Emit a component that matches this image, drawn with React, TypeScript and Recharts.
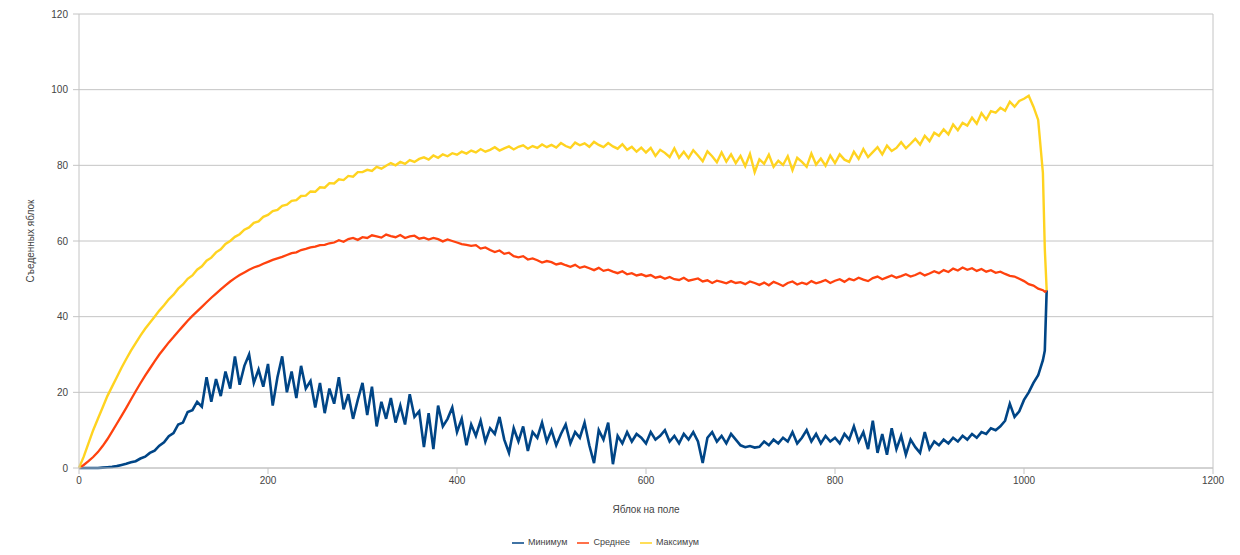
import {
  LineChart,
  Line,
  XAxis,
  YAxis,
  CartesianGrid,
  Legend,
  ReferenceLine
} from 'recharts'

// apples left on the field (x), sampled every 5 plus the last steps
const applesOnField = [
  0, 5, 10, 15, 20, 25, 30, 35, 40, 45, 50, 55, 60, 65, 70, 75, 80, 85, 90, 95,
  100, 105, 110, 115, 120, 125, 130, 135, 140, 145, 150, 155, 160, 165, 170, 175, 180, 185, 190, 195,
  200, 205, 210, 215, 220, 225, 230, 235, 240, 245, 250, 255, 260, 265, 270, 275, 280, 285, 290, 295,
  300, 305, 310, 315, 320, 325, 330, 335, 340, 345, 350, 355, 360, 365, 370, 375, 380, 385, 390, 395,
  400, 405, 410, 415, 420, 425, 430, 435, 440, 445, 450, 455, 460, 465, 470, 475, 480, 485, 490, 495,
  500, 505, 510, 515, 520, 525, 530, 535, 540, 545, 550, 555, 560, 565, 570, 575, 580, 585, 590, 595,
  600, 605, 610, 615, 620, 625, 630, 635, 640, 645, 650, 655, 660, 665, 670, 675, 680, 685, 690, 695,
  700, 705, 710, 715, 720, 725, 730, 735, 740, 745, 750, 755, 760, 765, 770, 775, 780, 785, 790, 795,
  800, 805, 810, 815, 820, 825, 830, 835, 840, 845, 850, 855, 860, 865, 870, 875, 880, 885, 890, 895,
  900, 905, 910, 915, 920, 925, 930, 935, 940, 945, 950, 955, 960, 965, 970, 975, 980, 985, 990, 995,
  1000, 1005, 1010, 1015, 1020, 1022, 1024
]

const minimum = [
  0, 0, 0, 0, 0, 0.1, 0.2, 0.3, 0.5, 0.8, 1.1, 1.5, 1.8, 2.5, 3.0, 4.0, 4.6, 5.9, 6.8, 8.4,
  9.2, 11.5, 12.0, 14.8, 15.3, 17.5, 16.2, 24.0, 17.5, 23.5, 19.0, 25.5, 21.0, 29.5, 22.0, 27.0, 30.0, 22.5, 26.0, 21.5,
  27.5, 16.5, 24.0, 29.5, 20.0, 25.5, 18.5, 27.0, 21.0, 23.0, 16.0, 22.5, 14.5, 21.0, 17.0, 24.0, 15.5, 19.5, 13.0, 18.0,
  22.5, 14.0, 21.5, 11.0, 17.5, 13.0, 18.5, 12.0, 16.5, 11.5, 19.5, 13.5, 15.0, 5.5, 14.5, 5.0, 16.5, 11.0, 13.0, 16.0,
  9.5, 13.0, 6.0, 11.5, 8.5, 12.5, 7.0, 10.5, 9.0, 13.5, 7.5, 4.0, 10.5, 7.0, 11.0, 4.5, 9.5, 8.0, 12.0, 7.0,
  10.0, 6.0, 9.0, 11.5, 6.5, 9.5, 8.0, 12.0, 6.0, 1.3, 10.0, 7.5, 12.0, 1.0, 8.5, 6.5, 9.5, 7.0, 9.0, 8.0,
  6.5, 9.5, 7.5, 8.5, 10.0, 7.0, 8.5, 6.5, 9.0, 7.5, 9.5, 7.0, 1.3, 8.0, 9.5, 7.0, 8.5, 6.5, 9.0, 7.5,
  6.0, 5.5, 5.8, 5.4, 5.6, 7.0, 6.0, 7.5, 6.5, 8.0, 7.0, 9.5, 6.5, 8.0, 10.0, 7.0, 9.0, 6.5, 8.5, 7.0,
  8.0, 6.5, 9.0, 7.5, 11.0, 7.0, 9.5, 5.0, 12.5, 4.0, 9.0, 3.5, 10.5, 5.0, 8.5, 3.5, 7.5, 5.5, 4.0, 9.5,
  5.0, 7.0, 6.0, 7.5, 6.5, 8.0, 7.0, 8.5, 7.5, 9.0, 8.0, 9.5, 9.0, 10.5, 10.0, 11.0, 12.5, 17.0, 13.5, 15.0,
  18.0, 20.0, 22.5, 24.5, 28.5, 31.0, 47.0
]

const average = [
  0, 0.8, 1.8, 2.9, 4.2, 5.8, 7.6, 9.6, 11.7, 13.8, 15.9, 18.1, 20.3, 22.4, 24.4, 26.3, 28.2, 30.0, 31.6, 33.2,
  34.6, 36.1, 37.5, 38.9, 40.2, 41.4, 42.6, 43.8, 45.0, 46.1, 47.2, 48.3, 49.3, 50.2, 51.0, 51.7, 52.4, 53.0, 53.4, 54.0,
  54.5, 55.0, 55.4, 55.8, 56.3, 56.8, 57.0, 57.6, 57.9, 58.3, 58.5, 58.9, 59.0, 59.4, 59.6, 60.2, 59.8, 60.5, 60.8, 60.3,
  61.0, 60.8, 61.5, 61.2, 60.9, 61.7, 61.3, 61.0, 61.6, 60.8, 61.2, 61.4, 60.6, 60.9, 60.4, 60.8, 60.5, 59.9, 60.4, 60.0,
  59.6, 59.2, 59.0, 58.7, 58.9, 58.0, 58.3, 57.6, 57.1, 57.5, 56.6, 56.9, 56.0, 55.7, 56.0, 55.1, 55.4, 54.9, 54.3, 54.7,
  54.4, 53.8, 54.1, 53.6, 53.2, 53.7, 52.9, 53.3, 52.8, 52.3, 52.9, 52.1, 52.4, 51.9, 51.5, 52.0, 51.2, 51.5, 50.9, 51.2,
  50.7, 51.0, 50.3, 50.6, 50.0, 50.5, 49.9, 49.7, 50.3, 49.5, 49.8, 50.1, 49.3, 49.6, 48.9, 49.5, 49.2, 48.8, 49.4, 48.9,
  49.1, 48.6, 49.3, 48.9, 48.4, 49.0, 48.3, 49.2, 48.7, 48.1, 48.9, 49.3, 48.5, 49.0, 48.6, 49.4, 48.8, 49.2, 49.7, 48.9,
  49.5, 49.9, 49.2, 50.0, 49.6, 50.3, 49.8, 49.4, 50.2, 50.6, 49.9, 50.4, 50.9, 50.3, 50.7, 51.2, 50.6, 51.0, 51.6, 50.9,
  51.4, 52.0, 51.5, 52.3, 51.8, 52.7, 52.2, 53.0, 52.4, 52.8, 52.1, 52.6, 51.9, 52.3, 51.6, 51.9, 51.3, 50.8, 50.6, 50.0,
  49.4, 48.6, 48.2, 47.4, 47.0, 46.6, 46.8
]

const maximum = [
  0, 3.0, 6.5, 10.0, 13.0, 16.0, 19.0, 21.5, 24.0, 26.5, 28.8, 31.0, 33.0, 35.0, 36.8, 38.4, 40.0, 41.6, 43.0, 44.6,
  45.8, 47.4, 48.5, 50.0, 50.9, 52.4, 53.3, 54.8, 55.6, 57.0, 57.8, 59.2, 60.0, 61.1, 61.8, 63.0, 63.6, 64.8, 65.2, 66.4,
  66.9, 67.9, 68.2, 69.3, 69.6, 70.6, 70.8, 71.9, 72.0, 73.1, 73.0, 74.2, 74.1, 75.3, 75.2, 76.3, 76.1, 77.2, 77.0, 78.2,
  78.2, 78.8, 78.5, 79.6, 79.1, 79.9, 80.6, 80.0, 80.9, 80.4, 81.4, 80.9, 81.7, 82.1, 81.5, 82.6, 82.0, 82.9, 82.4, 83.2,
  82.8, 83.6, 83.1, 83.9, 83.4, 84.3, 83.6, 84.1, 84.8, 83.9, 84.5, 85.0, 84.2, 84.9, 85.3, 84.4, 85.1, 84.6, 85.5, 84.8,
  85.4, 84.7, 85.9, 85.1, 84.6, 86.0, 85.3, 85.8, 84.9, 86.2, 85.4, 84.8, 85.9, 85.0, 84.4, 85.6, 84.1, 84.9, 83.6, 84.7,
  83.4, 84.6, 82.5, 84.1, 83.3, 82.2, 84.5, 82.0, 83.6, 81.9, 84.0, 82.6, 81.1, 83.7, 82.4, 80.8, 83.4, 81.0, 82.9, 80.6,
  82.5, 79.8, 83.0, 78.2, 81.6, 80.4, 82.8, 79.6, 81.2, 80.1, 82.4, 78.7, 82.0, 80.9, 79.6, 83.1, 80.2, 81.8, 79.9, 82.6,
  80.6, 82.9, 81.5, 80.9, 83.6, 81.7, 84.3, 82.2, 83.5, 84.8, 82.9, 85.2, 83.8, 84.6, 86.1, 84.5, 85.7, 87.0, 85.5, 87.8,
  86.4, 88.6, 87.8, 89.5, 88.2, 90.8, 89.3, 91.2, 90.5, 92.6, 91.0, 93.8, 92.1, 94.3, 93.9, 95.2, 94.4, 96.8, 95.5, 97.0,
  97.6, 98.4, 95.5, 92.0, 78.0, 58.0, 47.0
]

const seriesNames = ['Минимум', 'Среднее', 'Максимум']
const xTicks = [0, 200, 400, 600, 800, 1000, 1200]
const yTicks = [0, 20, 40, 60, 80, 100, 120]

const rows = applesOnField.map((x, i) => ({
  x,
  min: minimum[i],
  avg: average[i],
  max: maximum[i]
}))

const gridColor = '#c4c4c4'
const textColor = '#444'
const font = '"Liberation Sans", Arial, sans-serif'

export default function App() {
  return (
    <div style={{ width: 1224, height: 547, fontFamily: font }}>
      <LineChart
        width={1224}
        height={547}
        data={rows}
        margin={{ top: 6, right: 19, bottom: 4, left: 0 }}
      >
        <CartesianGrid vertical={false} stroke={gridColor} />
        <XAxis
          dataKey="x"
          type="number"
          domain={[0, 1200]}
          ticks={xTicks}
          height={71}
          stroke={gridColor}
          tickSize={6}
          tickMargin={3}
          tick={{ fill: textColor, fontSize: 10, fontFamily: font }}
          label={{
            value: 'Яблок на поле',
            position: 'insideBottom',
            offset: 26,
            fill: textColor,
            fontSize: 10,
            fontFamily: font
          }}
        />
        <YAxis
          type="number"
          domain={[0, 120]}
          ticks={yTicks}
          width={71}
          stroke={gridColor}
          tickSize={6}
          tickMargin={5}
          tick={{ fill: textColor, fontSize: 10, fontFamily: font }}
          label={{
            value: 'Съеденных яблок',
            angle: -90,
            position: 'insideLeft',
            offset: 22,
            fill: textColor,
            fontSize: 10,
            fontFamily: font,
            style: { textAnchor: 'middle' }
          }}
        />
        <ReferenceLine x={1200} stroke={gridColor} />
        <Legend
          verticalAlign="bottom"
          align="center"
          iconSize={12}
          itemSorter={(item) => seriesNames.indexOf(String(item.value))}
          wrapperStyle={{ fontSize: 9, fontFamily: font, color: textColor, bottom: 6 }}
          formatter={(value) => <span style={{ color: textColor }}>{value}</span>}
        />
        <Line
          dataKey="min"
          name="Минимум"
          stroke="#004586"
          strokeWidth={2.6}
          dot={false}
          legendType="plainline"
          isAnimationActive={false}
        />
        <Line
          dataKey="avg"
          name="Среднее"
          stroke="#ff420e"
          strokeWidth={2.3}
          dot={false}
          legendType="plainline"
          isAnimationActive={false}
        />
        <Line
          dataKey="max"
          name="Максимум"
          stroke="#ffd320"
          strokeWidth={2.4}
          dot={false}
          legendType="plainline"
          isAnimationActive={false}
        />
      </LineChart>
    </div>
  )
}
